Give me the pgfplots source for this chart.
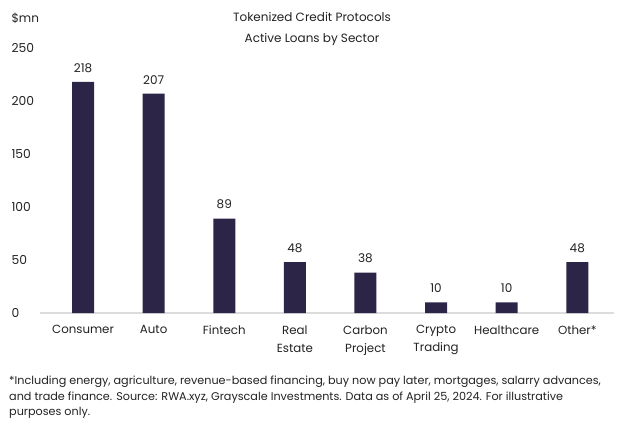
\documentclass[border=0pt]{standalone}
\usepackage{pgfplots}
\pgfplotsset{compat=1.18}
\usepackage{fontspec}
\setmainfont{Poppins}
\definecolor{barnavy}{HTML}{2D2548}
\definecolor{txt}{HTML}{222222}
\definecolor{basegray}{HTML}{DCDCDC}
\begin{document}
\begin{tikzpicture}[x=1pt,y=1pt]
\path[use as bounding box] (0,0) rectangle (624,429);
\begin{axis}[
  at={(40pt,116pt)}, anchor=south west,
  scale only axis, width=574pt, height=265pt,
  ymin=0, ymax=250, xmin=-0.61, xmax=7.52,
  ybar, bar width=22pt,
  axis line style={draw=none},
  major tick length=0pt,
  xtick=data,
  xticklabels={Consumer, Auto, Fintech, {Real\\Estate}, {Carbon\\Project}, {Crypto\\Trading}, Healthcare, Other*},
  xticklabel style={align=center, font=\fontsize{11.8}{18}\selectfont, text=txt, yshift=-9pt},
  ytick={0,50,100,150,200,250},
  yticklabel style={anchor=west, xshift=-32pt, font=\fontsize{12.3}{14}\selectfont, text=txt},
  /pgf/number format/assume math mode=true,
  nodes near coords,
  every node near coord/.append style={font=\fontsize{12}{14}\selectfont, text=txt, yshift=6pt},
  clip=false,
]
\draw[basegray, line width=1.5pt] (axis cs:-0.61,0) -- (axis cs:7.52,0);
\addplot[fill=barnavy, draw=none] coordinates {
  (0,218) (1,207) (2,89) (3,48) (4,38) (5,10) (6,10) (7,48)
};
\end{axis}
\node[anchor=west, text=txt, font=\fontsize{12}{14}\selectfont] at (8,411) {\$mn};
\node[align=center, text=txt, font=\fontsize{12}{21}\selectfont] at (312,400) {Tokenized Credit Protocols\\Active Loans by Sector};
\node[anchor=north west, align=left, text=txt, inner sep=0pt,
      font=\fontsize{11.2}{15.3}\selectfont] at (9,53)
  {*Including energy, agriculture, revenue-based financing, buy now pay later, mortgages, salarry advances,\\
   and trade finance. Source: RWA.xyz, Grayscale Investments. Data as of April 25, 2024. For illustrative\\
   purposes only.};
\end{tikzpicture}
\end{document}
